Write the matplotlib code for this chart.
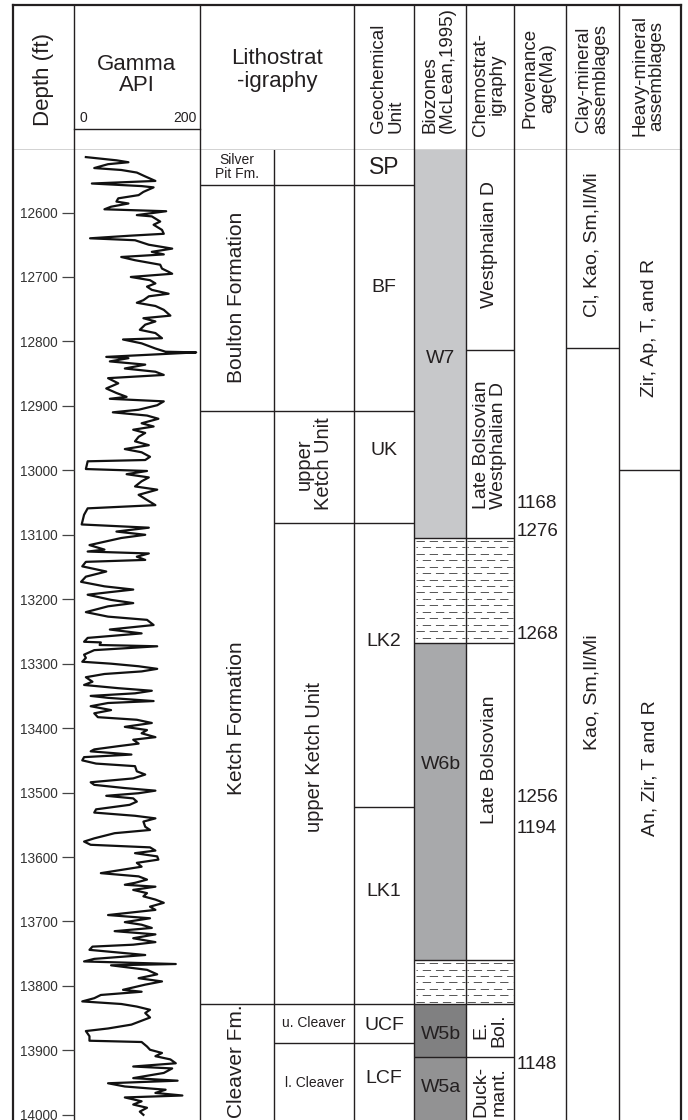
import numpy as np
import matplotlib.pyplot as plt
from matplotlib.patches import Rectangle

plt.rcParams['font.family'] = ['Liberation Sans', 'DejaVu Sans']
plt.rcParams['lines.scale_dashes'] = False

INK = '#231f20'

# ---------------- data ----------------
top_depth, base_depth = 12503, 14008
depth_ticks = list(range(12600, 14001, 100))

# gamma ray log (depth ft, API)
gr_depth = [12514, 12519, 12522, 12525, 12531, 12534, 12538, 12544, 12551, 12555,
            12559, 12561, 12568, 12573, 12578, 12583, 12586, 12591, 12595, 12598,
            12604, 12606, 12614, 12619, 12627, 12633, 12636, 12640, 12643, 12650,
            12656, 12661, 12665, 12669, 12674, 12681, 12687, 12692, 12695, 12700,
            12705, 12710, 12715, 12720, 12726, 12730, 12736, 12740, 12745, 12751,
            12760, 12764, 12769, 12774, 12782, 12787, 12795, 12797, 12803, 12811,
            12816, 12817, 12824, 12826, 12831, 12836, 12842, 12847, 12852, 12857,
            12865, 12873, 12880,
            12886, 12889, 12893, 12899, 12906, 12910, 12915, 12920, 12927, 12932,
            12937, 12942, 12948, 12955, 12961, 12967, 12972, 12979, 12984, 12986,
            12998, 13001, 13006, 13011, 13017, 13025, 13030, 13038, 13046, 13054,
            13059, 13069, 13084, 13089, 13095, 13100, 13105, 13109, 13116, 13123,
            13126, 13129, 13134, 13139, 13142, 13149, 13157, 13165, 13173, 13180,
            13185, 13189, 13193, 13201, 13206, 13211, 13220, 13227, 13232, 13240,
            13247, 13253, 13260,
            13266, 13267, 13271, 13273, 13279, 13286, 13291, 13297, 13300, 13304,
            13308, 13312, 13316, 13321, 13328, 13333, 13338, 13342, 13346, 13350,
            13353, 13358, 13361, 13366, 13372, 13377, 13383, 13387, 13392, 13398,
            13403, 13408, 13414, 13418, 13424, 13428, 13433, 13436, 13441, 13445,
            13450, 13455, 13459, 13467, 13472, 13478, 13484, 13488, 13493, 13497,
            13501, 13505, 13509, 13514, 13519, 13526, 13531, 13536, 13540, 13545,
            13553, 13558, 13563, 13571, 13576, 13581, 13585, 13590, 13594, 13599,
            13604, 13609, 13615, 13620, 13625, 13630, 13635, 13640,
            13643, 13646, 13651, 13656, 13661, 13666, 13671, 13677, 13682, 13690,
            13695, 13701, 13705, 13710, 13715, 13720, 13726, 13732, 13736, 13739,
            13744, 13752, 13758, 13762, 13766, 13768, 13775, 13782, 13788, 13793,
            13798, 13806, 13809, 13814, 13819, 13824, 13828, 13832, 13837, 13842,
            13849, 13855, 13860, 13866, 13870, 13878, 13885, 13887, 13894, 13899,
            13904, 13909, 13914, 13920, 13925, 13928, 13935, 13943, 13947, 13951,
            13956, 13961, 13966, 13970, 13973, 13979, 13984, 13989, 13995, 14000]
gr_api = [13, 64, 84, 50, 27, 72, 98, 112, 129, 23,
          106, 126, 109, 101, 67, 64, 84, 55, 44, 147,
          98, 123, 137, 126, 140, 143, 86, 20, 95, 118,
          157, 123, 143, 72, 95, 137, 140, 151, 157, 88,
          120, 129, 115, 123, 151, 118, 109, 98, 129, 143,
          154, 109, 129, 112, 103, 129, 140, 75, 106, 129,
          146, 197, 47, 84, 53, 112, 78, 129, 143, 50,
          67, 47, 64,
          81, 53, 143, 132, 101, 58, 115, 134, 106, 126,
          92, 112, 101, 95, 118, 78, 106, 120, 112, 16,
          13, 115, 81, 118, 106, 95, 132, 101, 115, 129,
          16, 10, 6, 118, 64, 112, 72, 53, 19, 44,
          16, 118, 98, 112, 13, 7, 47, 13, 5, 44,
          92, 53, 16, 55, 92, 50, 13, 50, 115, 126,
          53, 106, 16,
          10, 38, 36, 132, 27, 10, 13, 7, 55, 101,
          132, 106, 44, 13, 24, 10, 67, 123, 95, 21,
          50, 126, 50, 21, 55, 27, 33, 98, 123, 78,
          115, 106, 129, 92, 101, 67, 27, 21, 89, 10,
          7, 30, 95, 98, 112, 92, 21, 27, 78, 129,
          101, 47, 92, 98, 86, 30, 27, 95, 129, 109,
          112, 120, 61, 27, 10, 21, 120, 129, 95, 132,
          134, 98, 106, 72, 38, 101, 115, 95,
          78, 129, 92, 115, 109, 129, 143, 120, 129, 50,
          120, 78, 106, 123, 61, 129, 92, 129, 92, 24,
          19, 112, 27, 10, 163, 55, 115, 132, 101, 140,
          112, 75, 106, 38, 27, 7, 72, 98, 120, 112,
          120, 103, 89, 50, 13, 19, 19, 106, 115, 120,
          140, 129, 154, 163, 92, 157, 143, 92, 166, 50,
          78, 146, 129, 174, 78, 106, 92, 115, 103, 109]

formations = ['Silver\nPit Fm.', 'Boulton Formation', 'Ketch Formation', 'Cleaver Fm.']
formation_bounds = [12503, 12557, 12908, 13828, 14008]
formation_label_depth = [12530, 12732, 13385, 13917]

members = ['', '', 'upper\nKetch Unit', 'upper Ketch Unit', 'u. Cleaver', 'l. Cleaver']
member_bounds = [12503, 12557, 12908, 13081, 13828, 13888, 14008]
member_label_depth = [None, None, 12990, 13445, 13858, 13950]

geo_units = ['SP', 'BF', 'UK', 'LK2', 'LK1', 'UCF', 'LCF']
geo_bounds = [12503, 12557, 12908, 13081, 13523, 13828, 13888, 14008]
geo_label_depth = [12530, 12716, 12970, 13265, 13654, 13862, 13943]

biozones = ['W7', '', 'W6b', '', 'W5b', 'W5a']
bio_bounds = [12503, 13105, 13268, 13760, 13828, 13911, 14008]
bio_label_depth = [12826, None, 13457, None, 13876, 13958]
bio_colors = ['#c7c8ca', None, '#a8a9ab', None, '#808081', '#929293']

chemo_units = ['Westphalian D', 'Late Bolsovian\nWestphalian D', '', 'Late Bolsovian',
               '', 'E.\nBol.', 'Duck-\nmant.']
chemo_bounds = [12503, 12813, 13105, 13268, 13760, 13828, 13911, 14008]
chemo_label_depth = [12650, 12961, None, 13449, None, 13868, 13964]

hatched = [(13105, 13268), (13760, 13828)]

prov_age = [1168, 1276, 1268, 1256, 1194, 1148]
prov_depth = [13051, 13095, 13255, 13508, 13555, 13922]

clay_units = ['Cl, Kao, Sm,Il/Mi', 'Kao, Sm,Il/Mi']
clay_bounds = [12503, 12810, 14008]
clay_label_depth = [12650, 13344]

heavy_units = ['Zir, Ap, T, and R', 'An, Zir, T and R']
heavy_bounds = [12503, 12999, 14008]
heavy_label_depth = [12779, 13462]

# ---------------- layout (pixels) ----------------
W, H, HEAD = 688, 1120, 150
col_x = [13, 74, 200, 354, 414, 466, 514, 566, 619, 681]
lit_split = 274

fig = plt.figure(figsize=(W / 100, H / 100), dpi=100)
ax = fig.add_axes([0, 0, 1, (H - HEAD) / H])
ax.set_xlim(0, W)
ax.set_ylim(base_depth, top_depth)
ax.axis('off')

lw_in, lw_out = 1.0, 1.6


def hline(d, x0, x1, lw=lw_in):
    ax.plot([x0, x1], [d, d], color=INK, lw=lw, solid_capstyle='butt', zorder=4)


def interval_lines(bounds, x0, x1):
    for d in bounds[1:-1]:
        hline(d, x0, x1)


def labels(names, depths, x, size=14, rot=90):
    for n, d in zip(names, depths):
        if n and d is not None:
            ax.text(x, d, n, rotation=rot, ha='center', va='center',
                    multialignment='center', fontsize=size, color=INK,
                    linespacing=1.05, zorder=5)


# biozone fills
for c, a, b in zip(bio_colors, bio_bounds[:-1], bio_bounds[1:]):
    if c:
        ax.add_patch(Rectangle((415, a), 51, b - a, facecolor=c, edgecolor='none', zorder=1))

# shale-type dashed fill
for a, b in hatched:
    rows = np.arange(a + 4.5, b - 2, 10.0)
    for i, d in enumerate(rows):
        off = 0 if i % 2 == 0 else 5
        for x0, x1 in [(416, 465), (467, 513)]:
            ax.plot([x0, x1], [d, d], color='#555555', lw=0.7,
                    linestyle=(off, (6, 3.5)), zorder=2)

# vertical lines
for i, x in enumerate(col_x):
    ax.plot([x, x], [top_depth, base_depth], color=INK,
            lw=lw_out if i in (0, len(col_x) - 1) else lw_in, zorder=4)
ax.plot([lit_split, lit_split], [top_depth, base_depth], color=INK, lw=lw_in, zorder=4)

# horizontal lines
interval_lines(formation_bounds, 200, lit_split)
interval_lines(member_bounds, lit_split, 354)
interval_lines(geo_bounds, 354, 414)
interval_lines(bio_bounds, 414, 466)
interval_lines(chemo_bounds, 466, 514)
interval_lines(clay_bounds, 566, 619)
interval_lines(heavy_bounds, 619, 681)

# labels
labels(formations[1:], formation_label_depth[1:], 237, size=15)
ax.text(237, formation_label_depth[0], formations[0], ha='center', va='center',
        fontsize=10, color=INK, linespacing=1.0)
labels(members[2:4], member_label_depth[2:4], 314, size=14.5)
labels(members[4:], member_label_depth[4:], 314, size=10, rot=0)
labels(geo_units[:1], geo_label_depth[:1], 384, size=16.5, rot=0)
labels(geo_units[1:], geo_label_depth[1:], 384, size=14, rot=0)
labels(biozones, bio_label_depth, 441, size=14, rot=0)
labels(chemo_units, chemo_label_depth, 490, size=14)
for a, d in zip(prov_age, prov_depth):
    ax.text(517, d, str(a), ha='left', va='center', fontsize=13.5, color=INK, zorder=5)
labels(clay_units, clay_label_depth, 592, size=14)
labels(heavy_units, heavy_label_depth, 650, size=14)

# gamma log
axg = fig.add_axes([74 / W, 0, 126 / W, (H - HEAD) / H])
axg.patch.set_alpha(0)
axg.plot(gr_api, gr_depth, color='#111111', lw=1.6, zorder=3)
axg.set_xlim(-6.8, 203.4)
axg.set_ylim(base_depth, top_depth)
for s in axg.spines.values():
    s.set_visible(False)
axg.set_xticks([])
axg.set_yticks(depth_ticks)
axg.tick_params(axis='y', direction='out', length=8.6, width=0.9, color='#444444',
                pad=3, labelsize=9.8, labelcolor='#333333')

# ---------------- header ----------------
axh = fig.add_axes([0, (H - HEAD) / H, 1, HEAD / H])
axh.set_xlim(0, W)
axh.set_ylim(HEAD, 0)
axh.axis('off')
axh.plot([col_x[0], col_x[-1]], [5, 5], color=INK, lw=lw_out)
axh.plot([col_x[0], col_x[-1]], [149.5, 149.5], color=INK, lw=lw_in)
for i, x in enumerate(col_x):
    axh.plot([x, x], [5, HEAD], color=INK,
             lw=lw_out if i in (0, len(col_x) - 1) else lw_in)
axh.plot([74, 200], [129, 129], color=INK, lw=lw_in)

axh.text(43, 79, 'Depth (ft)', rotation=90, ha='center', va='center', fontsize=16, color=INK)
axh.text(137, 75, 'Gamma\nAPI', ha='center', va='center', fontsize=16, color=INK,
         linespacing=1.05)
axh.text(80, 118, '0', ha='left', va='center', fontsize=10, color=INK)
axh.text(197, 118, '200', ha='right', va='center', fontsize=10, color=INK)
axh.text(277, 70, 'Lithostrat\n-igraphy', ha='center', va='center', fontsize=16,
         color=INK, linespacing=1.1)
axh.text(387, 133, 'Geochemical\nUnit', rotation=90, ha='center', va='bottom',
         multialignment='left', fontsize=13.5, color=INK, linespacing=1.0)
axh.text(439, 133, 'Biozones\n(McLean,1995)', rotation=90, ha='center', va='bottom',
         multialignment='left', fontsize=13.5, color=INK, linespacing=1.0)
axh.text(489, 84, 'Chemostrat-\nigraphy', rotation=90, ha='center', va='center',
         fontsize=13.5, color=INK, linespacing=1.0)
axh.text(539, 78, 'Provenance\nage(Ma)', rotation=90, ha='center', va='center',
         fontsize=13.5, color=INK, linespacing=1.0)
axh.text(592, 79, 'Clay-mineral\nassemblages', rotation=90, ha='center', va='center',
         fontsize=13.5, color=INK, linespacing=1.0)
axh.text(648, 76, 'Heavy-mineral\nassemblages', rotation=90, ha='center', va='center',
         fontsize=13.5, color=INK, linespacing=1.0)

fig.savefig('out.png', dpi=100)
